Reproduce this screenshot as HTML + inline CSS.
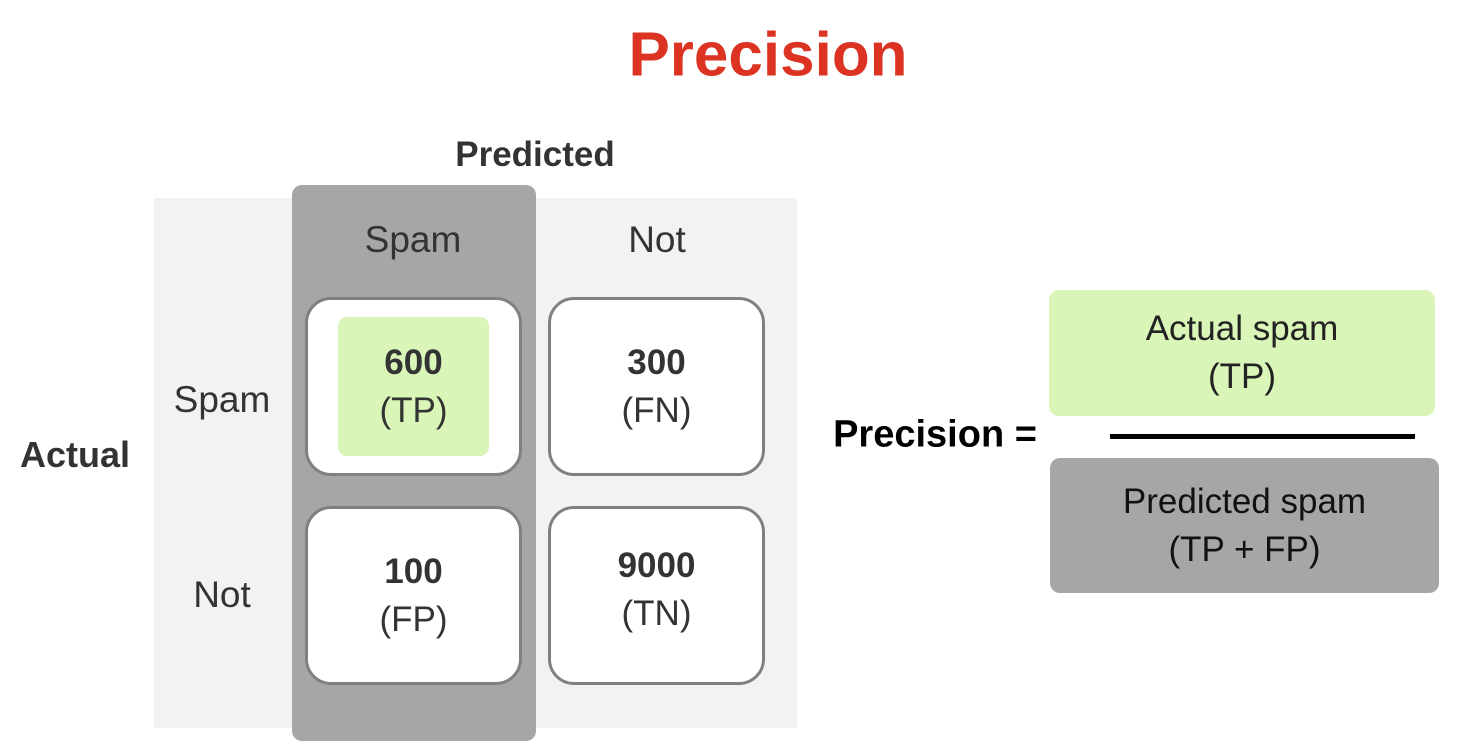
<!DOCTYPE html>
<html><head><style>
body{margin:0;width:1476px;height:744px;background:#fff;position:relative;overflow:hidden;font-family:"Liberation Sans",Arial,sans-serif;color:#333}
div{position:absolute;box-sizing:border-box}
.t{white-space:nowrap;transform:translate(-50%,-50%)}
.cell{background:#fff;border:3px solid #808080;border-radius:26px}
.c{display:flex;flex-direction:column;align-items:center;justify-content:center;text-align:center;font-size:35px;line-height:48px}
</style></head><body>
<div class="t" style="left:768px;top:55px;font-size:62px;font-weight:bold;color:#dc3322">Precision</div>
<div class="t" style="left:535px;top:155px;font-size:35px;font-weight:bold;color:#333">Predicted</div>
<div style="left:154px;top:198px;width:643px;height:530px;background:#f2f2f2"></div>
<div style="left:292px;top:185px;width:244px;height:556px;background:#a6a6a6;border-radius:10px"></div>
<div class="t" style="left:413px;top:240px;font-size:37px;color:#333">Spam</div>
<div class="t" style="left:657px;top:240px;font-size:37px;color:#333">Not</div>
<div class="t" style="left:222px;top:400px;font-size:37px;color:#333">Spam</div>
<div class="t" style="left:222px;top:595px;font-size:37px;color:#333">Not</div>
<div class="t" style="left:75px;top:455px;font-size:36px;font-weight:bold;color:#333">Actual</div>
<div class="cell" style="left:305px;top:297px;width:217px;height:179px"></div>
<div class="c" style="left:338px;top:317px;width:151px;height:139px;background:#d9f5b8;border-radius:9px"><b>600</b><span>(TP)</span></div>
<div class="cell c" style="left:548px;top:297px;width:217px;height:179px"><b>300</b><span>(FN)</span></div>
<div class="cell c" style="left:305px;top:506px;width:217px;height:179px"><b>100</b><span>(FP)</span></div>
<div class="cell c" style="left:548px;top:506px;width:217px;height:179px;padding-bottom:12px"><b>9000</b><span>(TN)</span></div>
<div class="t" style="left:935px;top:435px;font-size:38px;font-weight:bold;color:#000">Precision =</div>
<div class="c" style="left:1049px;top:290px;width:386px;height:126px;background:#d9f5b8;border-radius:10px;color:#222">Actual spam<br>(TP)</div>
<div style="left:1110px;top:434px;width:305px;height:5px;background:#000"></div>
<div class="c" style="left:1050px;top:458px;width:389px;height:135px;background:#a6a6a6;border-radius:10px;color:#111">Predicted spam<br>(TP + FP)</div>
</body></html>
